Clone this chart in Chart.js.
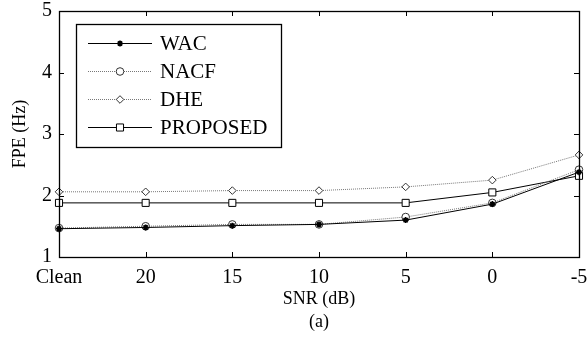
<!DOCTYPE html>
<html>
<head>
<meta charset="utf-8">
<script src="https://cdn.jsdelivr.net/npm/chart.js@4/dist/chart.umd.min.js"></script>
<style>
  html, body { margin: 0; padding: 0; background: #fff; }
  #wrap { width: 587px; height: 345px; }
</style>
</head>
<body>
<div id="wrap"><canvas id="c" width="587" height="345"></canvas></div>
<script>
// SNR conditions along the x axis
const categories = ['Clean', '20', '15', '10', '5', '0', '-5'];
// Fine pitch error (Hz) per method
const wac      = [1.46, 1.48, 1.51, 1.53, 1.60, 1.86, 2.38];
const nacf     = [1.47, 1.50, 1.53, 1.53, 1.65, 1.88, 2.42];
const dhe      = [2.06, 2.06, 2.08, 2.08, 2.14, 2.25, 2.66];
const proposed = [1.88, 1.88, 1.88, 1.88, 1.88, 2.05, 2.32];
const seriesNames = ['WAC', 'NACF', 'DHE', 'PROPOSED'];
const yTicks = [1, 2, 3, 4, 5];

const FONT = 'Liberation Serif, "Times New Roman", serif';

// Frame, inward tick marks and the boxed legend
const framePlugin = {
  id: 'frame',
  afterDraw(chart) {
    const ctx = chart.ctx;
    const a = chart.chartArea;
    const xs = chart.scales.x, ys = chart.scales.y;
    ctx.save();
    ctx.strokeStyle = '#000';
    ctx.lineWidth = 1.3;
    ctx.strokeRect(Math.round(a.left) + 0.5, Math.round(a.top) + 0.5,
                   Math.round(a.right - a.left), Math.round(a.bottom - a.top));
    ctx.lineWidth = 1;
    const tl = 5;
    categories.forEach((c, i) => {
      const x = Math.round(xs.getPixelForValue(i)) + 0.5;
      ctx.beginPath();
      ctx.moveTo(x, a.bottom); ctx.lineTo(x, a.bottom - tl);
      ctx.moveTo(x, a.top); ctx.lineTo(x, a.top + tl);
      ctx.stroke();
    });
    yTicks.forEach(v => {
      const y = Math.round(ys.getPixelForValue(v)) + 0.5;
      ctx.beginPath();
      ctx.moveTo(a.left, y); ctx.lineTo(a.left + tl, y);
      ctx.moveTo(a.right, y); ctx.lineTo(a.right - tl, y);
      ctx.stroke();
    });

    // legend box
    const lx = 76, ly = 24, lw = 205, lh = 123;
    ctx.fillStyle = '#fff';
    ctx.fillRect(lx, ly, lw, lh);
    ctx.lineWidth = 1.3;
    ctx.strokeRect(lx + 0.5, ly + 0.5, lw, lh);
    ctx.font = '21px ' + FONT;
    ctx.textBaseline = 'middle';
    ctx.textAlign = 'left';
    chart.data.datasets.forEach((ds, i) => {
      const y = 43 + i * 28;
      ctx.save();
      ctx.strokeStyle = ds.borderColor;
      ctx.lineWidth = ds.borderWidth;
      ctx.setLineDash(ds.borderDash || []);
      ctx.beginPath();
      ctx.moveTo(88, y + 0.5); ctx.lineTo(152, y + 0.5);
      ctx.stroke();
      ctx.setLineDash([]);
      ctx.strokeStyle = ds.pointBorderColor;
      ctx.fillStyle = ds.pointBackgroundColor;
      ctx.lineWidth = ds.pointBorderWidth;
      Chart.helpers.drawPoint(ctx, {
        pointStyle: ds.pointStyle, radius: ds.pointRadius, rotation: 0,
        borderWidth: ds.pointBorderWidth
      }, 120, y + 0.5);
      ctx.restore();
      ctx.fillStyle = '#000';
      ctx.fillText(ds.label, 160, y + 1);
    });
    ctx.restore();
  }
};

function series(label, data, opts) {
  return Object.assign({
    label, data,
    borderColor: '#000', borderWidth: 1,
    pointBorderColor: '#000', pointBackgroundColor: '#fff',
    pointBorderWidth: 1, pointRadius: 3.5, pointHoverRadius: 3.5,
    tension: 0, fill: false
  }, opts);
}

new Chart(document.getElementById('c'), {
  type: 'line',
  data: {
    labels: categories,
    datasets: [
      series(seriesNames[0], wac, { pointStyle: 'star', pointRadius: 3, pointBorderWidth: 1.6, pointBackgroundColor: '#000' }),
      series(seriesNames[1], nacf, { borderColor: '#777', borderDash: [1, 1], pointStyle: 'circle', pointRadius: 3.8, pointBorderColor: '#333' }),
      series(seriesNames[2], dhe, { borderColor: '#777', borderDash: [1, 1], pointStyle: 'rectRot', pointRadius: 3.8, pointBorderColor: '#333' }),
      series(seriesNames[3], proposed, { pointStyle: 'rect', pointRadius: 5 })
    ]
  },
  options: {
    responsive: false,
    animation: false,
    events: [],
    layout: { padding: { top: 11, right: 8, left: 0, bottom: 0 } },
    plugins: { legend: { display: false }, tooltip: { enabled: false } },
    scales: {
      x: {
        type: 'category',
        offset: false,
        grid: { display: false, drawTicks: false },
        border: { display: false },
        ticks: { color: '#000', font: { family: FONT, size: 20 }, padding: 9, maxRotation: 0, autoSkip: false },
        title: {
          display: true, text: ['SNR (dB)', '(a)'], color: '#000',
          font: { family: FONT, size: 18, lineHeight: 1.28 },
          padding: { top: 0, bottom: 11 }
        },
        afterFit(scale) {
          scale.height = 88;
          scale.paddingLeft = 0;
          scale.paddingRight = 0;
        }
      },
      y: {
        min: 1, max: 5,
        grid: { display: false, drawTicks: false },
        border: { display: false },
        ticks: { color: '#000', font: { family: FONT, size: 20 }, padding: 7, stepSize: 1 },
        afterBuildTicks(scale) { scale.ticks = yTicks.map(v => ({ value: v })); },
        title: {
          display: true, text: 'FPE (Hz)', color: '#000',
          font: { family: FONT, size: 18, lineHeight: 1.28 },
          padding: { top: 9, bottom: 0 }
        },
        afterFit(scale) {
          scale.width = 59;
          scale.paddingTop = 0;
          scale.paddingBottom = 0;
        }
      }
    }
  },
  plugins: [framePlugin]
});
</script>
</body>
</html>
